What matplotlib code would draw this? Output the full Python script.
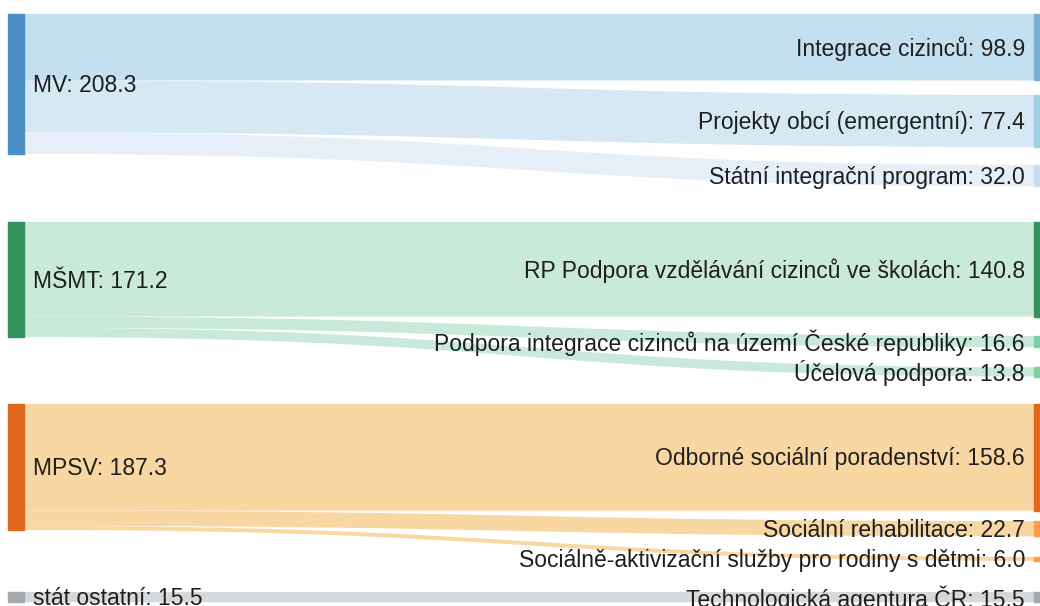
import matplotlib
matplotlib.use("Agg")
import matplotlib.pyplot as plt
from matplotlib.path import Path
from matplotlib.patches import PathPatch, Rectangle

plt.rcParams["font.family"] = ["Liberation Sans", "DejaVu Sans"]

# data: ministry -> programme flows (mil. Kč)
SOURCES = ["MV", "MŠMT", "MPSV", "stát ostatní"]
TARGETS = [
    ["Integrace cizinců", "Projekty obcí (emergentní)", "Státní integrační program"],
    ["RP Podpora vzdělávání cizinců ve školách",
     "Podpora integrace cizinců na území České republiky", "Účelová podpora"],
    ["Odborné sociální poradenství", "Sociální rehabilitace",
     "Sociálně-aktivizační služby pro rodiny s dětmi"],
    ["Technologická agentura ČR"],
]
VALUES = [
    [98.9, 77.4, 32.0],
    [140.8, 16.6, 13.8],
    [158.6, 22.7, 6.0],
    [15.5],
]

# styles
SRC_COL = ["#4a8fc6", "#33915b", "#df661d", "#a3a9ac"]
TGT_COL = [
    ["#78b2da", "#a6cde6", "#c9ddf0"],
    ["#33915b", "#7ccfa0", "#7ccfa0"],
    ["#e5661f", "#fd9a4c", "#fd9a4c"],
    ["#a3a9ac"],
]
LINK_COL = [
    ["#c3dff0", "#d6e8f3", "#e6eff8"],
    ["#c9eada", "#c9eada", "#c9eada"],
    ["#f9d7a2", "#f9d7a2", "#f9d7a2"],
    ["#d5d9db"],
]
TEXT = "#1e1e1e"

# layout (pixels): vertical padding above each right-hand node
W, H = 1040, 606
SCALE = 0.672          # px per unit
TOP = 14
PAD = [[0, 14.5, 18], [35.5, 19.5, 20], [27.5, 10.5, 20.5], [31]]
NODE_W = 16
XL, XR = 8, 1034
DY = 1.5               # small baseline nudge for labels


def band(ax, x0, y0a, y0b, x1, y1a, y1b, color):
    xm = (x0 + x1) / 2
    verts = [(x0, y0a), (xm, y0a), (xm, y1a), (x1, y1a),
             (x1, y1b), (xm, y1b), (xm, y0b), (x0, y0b), (x0, y0a)]
    codes = [Path.MOVETO, Path.CURVE4, Path.CURVE4, Path.CURVE4,
             Path.LINETO, Path.CURVE4, Path.CURVE4, Path.CURVE4, Path.CLOSEPOLY]
    ax.add_patch(PathPatch(Path(verts, codes), facecolor=color,
                           edgecolor="none", zorder=1))


fig = plt.figure(figsize=(W / 100, H / 100), dpi=100)
ax = fig.add_axes([0, 0, 1, 1])
ax.set_xlim(0, W)
ax.set_ylim(H, 0)
ax.axis("off")

y = TOP
for g, src in enumerate(SOURCES):
    total = sum(VALUES[g])
    src_top = y + PAD[g][0]
    sy = src_top
    for t, (name, v) in enumerate(zip(TARGETS[g], VALUES[g])):
        y += PAD[g][t]
        h = v * SCALE
        band(ax, XL + NODE_W, sy, sy + h, XR, y, y + h, LINK_COL[g][t])
        ax.add_patch(Rectangle((XR, y), NODE_W, h, color=TGT_COL[g][t], zorder=2))
        ax.text(XR - 9, y + h / 2 + DY, f"{name}: {v:.1f}", ha="right", va="center",
                fontsize=16.5, color=TEXT, zorder=3)
        sy += h
        y += h
    ax.add_patch(Rectangle((XL, src_top), NODE_W, total * SCALE,
                           color=SRC_COL[g], zorder=2))
    ax.text(XL + NODE_W + 9, src_top + total * SCALE / 2 + DY, f"{src}: {total:.1f}",
            ha="left", va="center", fontsize=16.5, color=TEXT, zorder=3)

fig.savefig("out.png", dpi=100, facecolor="white")
